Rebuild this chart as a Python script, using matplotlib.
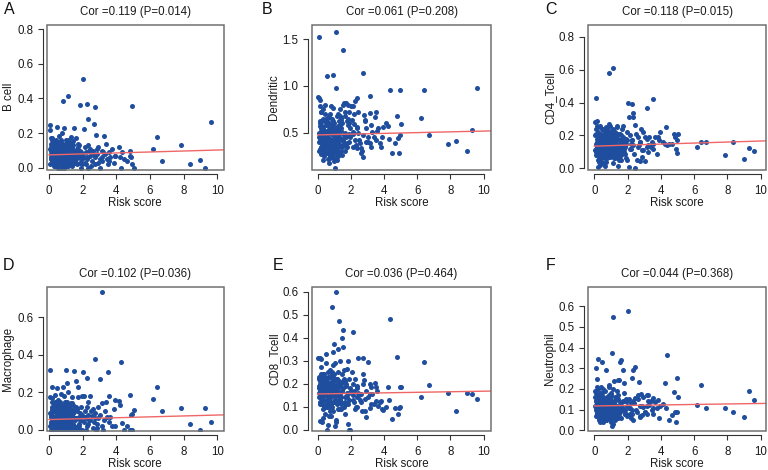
import matplotlib
matplotlib.use("Agg")
import matplotlib.pyplot as plt
from matplotlib.patches import Rectangle

plt.rcParams['font.family'] = ['Liberation Sans', 'DejaVu Sans']

# ---- data ----
panel_letters = ['A', 'B', 'C', 'D', 'E', 'F']
cell_types = ['B cell', 'Dendritic', 'CD4_Tcell', 'Macrophage', 'CD8_Tcell', 'Neutrophil']
cor_values = [0.119, 0.061, 0.118, 0.102, 0.036, 0.044]
p_values = [0.014, 0.208, 0.015, 0.036, 0.464, 0.368]
fit_intercept = [0.075, 0.475, 0.135, 0.054, 0.155, 0.118]
fit_slope = [0.0028, 0.0041, 0.0031, 0.0024, 0.0012, 0.0012]

risk_score = [
    0.05, 0.08, 0.10, 0.12, 0.15, 0.18, 0.20, 0.22, 0.25, 0.28,
    0.30, 0.32, 0.35, 0.38, 0.40, 0.42, 0.45, 0.48, 0.50, 0.52,
    0.55, 0.58, 0.60, 0.62, 0.65, 0.68, 0.70, 0.72, 0.75, 0.78,
    0.80, 0.82, 0.85, 0.88, 0.90, 0.92, 0.95, 0.98, 1.00, 1.02,
    1.05, 1.08, 1.10, 1.12, 1.15, 1.18, 1.20, 1.22, 1.25, 1.28,
    1.30, 1.35, 1.40, 1.45, 1.50, 1.55, 1.60, 1.65, 1.70, 1.75,
    1.80, 1.85, 1.90, 1.95, 0.06, 0.13, 0.17, 0.24, 0.33, 0.44,
    0.56, 0.63, 0.74, 0.86, 0.94, 1.04, 1.14, 1.24, 1.38, 1.48,
    0.09, 0.19, 0.27, 0.36, 0.47, 0.57, 0.67, 0.77, 0.87, 0.97,
    1.07, 1.17, 1.27, 1.33, 1.43, 1.53, 1.63, 1.73, 1.83, 1.98,
    0.11, 0.21, 0.31, 0.41, 0.51, 0.61, 0.71, 0.81, 0.91, 1.01,
    1.11, 1.21, 1.31, 1.41, 1.58, 0.14, 0.26, 0.39, 0.53, 0.66,
    0.79, 0.89, 0.99, 1.09, 1.19, 1.29, 0.16, 0.29, 0.43, 0.59,
    0.69, 0.83, 0.93, 1.03, 1.13, 1.23, 0.07, 0.34, 0.64, 0.84,
    1.06, 1.16, 1.36, 1.46, 1.68, 1.78, 1.88, 0.46, 0.73, 0.96,
    2.04, 2.10, 2.10, 2.14, 2.18, 2.20, 2.24, 2.24, 2.34, 2.34,
    2.34, 2.44, 2.44, 2.54, 2.60, 2.68, 2.74, 2.74, 2.80, 2.84,
    2.94, 2.94, 3.04, 3.14, 3.14, 3.14, 3.24, 3.30, 3.40, 3.44,
    3.50, 3.54, 3.64, 3.74, 3.84, 3.94, 4.14, 4.24, 4.30, 4.34,
    4.48, 4.64, 4.80, 4.84, 4.88, 4.94, 4.94, 5.04,
    6.20, 6.42, 6.70, 7.86, 8.36, 8.98, 9.27, 9.62,
    0.15, 0.23, 0.31, 0.37, 0.49, 0.54, 0.62, 0.68, 0.76, 0.81,
    0.88, 0.95, 1.02, 1.08, 1.15, 1.22, 1.26, 1.34, 1.42, 1.52,
    0.12, 0.20, 0.28, 0.40, 0.45, 0.58, 0.66, 0.72, 0.85, 0.92,
    1.00, 1.10, 1.18, 1.32, 1.44, 1.56, 1.66, 1.76, 1.86, 1.96,
    0.18, 0.35, 0.52, 0.70, 0.90, 1.12, 1.37, 1.62, 1.90, 2.15,
    2.28, 2.38, 2.50, 2.62, 2.72, 2.88, 3.02, 3.22, 3.55, 3.90,
]

b_cell = [
    0.248, 0.02, 0.17, 0.06, 0.11, 0.04, 0.175, 0.09, 0.13, 0.01,
    0.07, 0.15, 0.03, 0.10, 0.05, 0.12, 0.238, 0.08, 0.14, 0.02,
    0.06, 0.11, 0.185, 0.04, 0.09, 0.13, 0.0, 0.07, 0.20, 0.10,
    0.05, 0.12, 0.384, 0.08, 0.229, 0.03, 0.14, 0.06, 0.11, 0.16,
    0.09, 0.04, 0.413, 0.07, 0.13, 0.02, 0.10, 0.15, 0.06, 0.12,
    0.18, 0.05, 0.155, 0.09, 0.232, 0.03, 0.17, 0.11, 0.07, 0.14,
    0.06, 0.364, 0.0, 0.02, 0.219, 0.08, 0.12, 0.05, 0.11, 0.09,
    0.03, 0.15, 0.08, 0.10, 0.06, 0.13, 0.04, 0.09, 0.12, 0.07,
    0.10, 0.03, 0.14, 0.07, 0.12, 0.08, 0.05, 0.13, 0.02, 0.09,
    0.11, 0.06, 0.08, 0.14, 0.04, 0.10, 0.05, 0.12, 0.03, 0.08,
    0.05, 0.13, 0.09, 0.02, 0.11, 0.07, 0.15, 0.04, 0.10, 0.06,
    0.08, 0.12, 0.03, 0.10, 0.06, 0.14, 0.07, 0.16, 0.05, 0.12,
    0.09, 0.06, 0.13, 0.01, 0.11, 0.08, 0.04, 0.10, 0.07, 0.03,
    0.14, 0.10, 0.07, 0.12, 0.05, 0.09, 0.11, 0.06, 0.08, 0.13,
    0.04, 0.10, 0.12, 0.06, 0.09, 0.13, 0.05, 0.03, 0.16, 0.01,
    0.514, 0.223, 0.06, 0.12, 0.02, 0.09, 0.37, 0.05, 0.281, 0.13,
    0.0, 0.07, 0.11, 0.04, 0.10, 0.254, 0.351, 0.06, 0.19, 0.08,
    0.03, 0.12, 0.0, 0.06, 0.10, 0.04, 0.186, 0.08, 0.136, 0.05,
    0.02, 0.09, 0.06, 0.11, 0.03, 0.07, 0.12, 0.065, 0.0, 0.09,
    0.05, 0.04, 0.097, 0.07, 0.06, 0.355, 0.02, 0.0,
    0.107, 0.176, 0.041, 0.134, 0.025, 0.048, 0.0, 0.264,
    0.06, 0.11, 0.03, 0.13, 0.08, 0.00, 0.10, 0.05, 0.12, 0.02,
    0.09, 0.04, 0.07, 0.14, 0.01, 0.11, 0.06, 0.13, 0.03, 0.08,
    0.12, 0.07, 0.10, 0.02, 0.15, 0.05, 0.09, 0.12, 0.04, 0.10,
    0.02, 0.08, 0.11, 0.06, 0.13, 0.09, 0.02, 0.07, 0.10, 0.05,
    0.16, 0.01, 0.04, 0.02, 0.00, 0.16, 0.01, 0.03, 0.09, 0.03,
    0.06, 0.10, 0.01, 0.08, 0.02, 0.11, 0.05, 0.09, 0.04, 0.07,
]

dendritic = [
    0.88, 0.45, 0.87, 0.60, 0.85, 0.35, 0.52, 0.72, 0.40, 0.28,
    0.55, 0.33, 0.48, 0.62, 0.25, 0.42, 0.80, 0.30, 0.58, 0.37,
    1.10, 0.45, 0.22, 0.66, 0.38, 0.50, 0.27, 0.70, 0.43, 0.32,
    0.78, 0.24, 0.55, 0.40, 1.12, 0.33, 0.62, 0.20, 0.47, 0.36,
    0.12, 0.52, 0.98, 1.58, 0.30, 0.68, 0.42, 0.25, 0.57, 0.38,
    0.45, 0.75, 0.30, 0.60, 0.80, 1.38, 0.82, 0.50, 0.82, 0.35,
    0.65, 0.80, 0.40, 0.55, 0.30, 0.62, 0.42, 0.50, 0.75, 0.35,
    0.28, 0.52, 0.40, 0.65, 0.30, 0.44, 0.21, 0.70, 0.52, 0.26,
    0.40, 0.55, 0.32, 0.46, 0.70, 0.38, 0.60, 0.23, 0.48, 0.56,
    0.34, 0.47, 0.62, 0.28, 0.55, 0.42, 0.68, 0.45, 0.58, 0.78,
    0.50, 0.27, 0.65, 0.36, 0.44, 0.58, 0.33, 0.52, 0.29, 0.41,
    0.55, 0.36, 0.48, 0.66, 0.38, 0.78, 0.46, 0.28, 0.40, 0.54,
    0.36, 0.29, 0.60, 0.45, 0.32, 0.42, 0.57, 0.38, 0.49, 0.33,
    0.48, 0.42, 0.26, 0.35, 0.50, 0.29, 1.52, 0.44, 0.31, 0.37,
    0.22, 0.40, 0.58, 0.43, 0.36, 0.62, 0.48, 0.52, 0.34, 0.43,
    0.636, 0.786, 0.35, 0.511, 0.70, 0.593, 0.839, 0.421, 0.868, 0.564,
    0.332, 0.725, 0.493, 0.386, 0.286, 0.304, 1.136, 0.243, 0.689, 0.636,
    0.546, 0.404, 0.457, 0.896, 0.707, 0.386, 0.582, 0.511, 0.457, 0.671,
    0.725, 0.421, 0.546, 0.386, 0.35, 0.557, 0.60, 0.571, 0.429, 0.957,
    0.286, 0.386, 0.682, 0.439, 0.279, 0.957, 0.475, 0.589,
    0.654, 0.957, 0.475, 0.379, 0.407, 0.304, 0.529, 0.975,
    0.32, 0.45, 0.27, 0.52, 0.38, 0.61, 0.29, 0.43, 0.35, 0.58,
    0.24, 0.47, 0.31, 0.39, 0.53, 0.26, 0.44, 0.36, 0.63, 0.41,
    0.49, 0.34, 0.57, 0.30, 0.46, 0.37, 0.68, 0.25, 0.42, 0.51,
    0.33, 0.40, 0.28, 0.56, 0.35, 0.47, 0.72, 0.39, 0.60, 0.45,
    0.72, 0.21, 0.64, 0.18, 0.76, 0.23, 0.68, 0.30, 0.72, 0.48,
    0.37, 0.55, 0.42, 0.33, 0.47, 0.62, 0.40, 0.35, 0.52, 0.45,
]

cd4_tcell = [
    0.28, 0.15, 0.427, 0.08, 0.285, 0.12, 0.22, 0.05, 0.01, 0.18,
    0.10, 0.26, 0.14, 0.04, 0.20, 0.09, 0.16, 0.24, 0.07, 0.13,
    0.19, 0.11, 0.03, 0.21, 0.15, 0.08, 0.25, 0.12, 0.18, 0.06,
    0.14, 0.22, 0.10, 0.17, 0.58, 0.07, 0.26, 0.13, 0.20, 0.09,
    0.16, 0.11, 0.61, 0.24, 0.08, 0.19, 0.13, 0.22, 0.06, 0.15,
    0.10, 0.25, 0.016, 0.18, 0.12, 0.21, 0.08, 0.24, 0.14, 0.19,
    0.12, 0.16, 0.06, 0.22, 0.20, 0.10, 0.14, 0.25, 0.07, 0.17,
    0.12, 0.016, 0.20, 0.09, 0.15, 0.11, 0.23, 0.08, 0.17, 0.05,
    0.12, 0.18, 0.06, 0.21, 0.10, 0.14, 0.08, 0.23, 0.11, 0.16,
    0.09, 0.17, 0.12, 0.20, 0.07, 0.15, 0.11, 0.26, 0.13, 0.05,
    0.21, 0.09, 0.17, 0.13, 0.03, 0.19, 0.11, 0.15, 0.08, 0.22,
    0.14, 0.10, 0.18, 0.07, 0.20, 0.16, 0.04, 0.12, 0.24, 0.10,
    0.18, 0.13, 0.09, 0.15, 0.11, 0.21, 0.13, 0.19, 0.10, 0.17,
    0.13, 0.16, 0.12, 0.18, 0.14, 0.09, 0.11, 0.15, 0.06, 0.12,
    0.14, 0.20, 0.09, 0.13, 0.17, 0.10, 0.15, 0.11, 0.07, 0.19,
    0.395, 0.314, 0.01, 0.20, 0.15, 0.12, 0.39, 0.17, 0.334, 0.314,
    0.14, 0.263, 0.0, 0.05, 0.19, 0.14, 0.045, 0.16, 0.237, 0.07,
    0.111, 0.22, 0.045, 0.368, 0.13, 0.18, 0.10, 0.19, 0.13, 0.16,
    0.419, 0.15, 0.19, 0.087, 0.19, 0.22, 0.16, 0.15, 0.253, 0.14,
    0.15, 0.15, 0.21, 0.19, 0.12, 0.095, 0.17, 0.21,
    0.132, 0.162, 0.162, 0.081, 0.162, 0.055, 0.126, 0.107,
    0.09, 0.17, 0.12, 0.21, 0.06, 0.14, 0.19, 0.10, 0.16, 0.23,
    0.08, 0.13, 0.18, 0.11, 0.15, 0.20, 0.07, 0.14, 0.12, 0.17,
    0.24, 0.10, 0.15, 0.19, 0.09, 0.13, 0.22, 0.11, 0.16, 0.08,
    0.14, 0.18, 0.06, 0.12, 0.21, 0.10, 0.15, 0.13, 0.09, 0.17,
    0.26, 0.02, 0.23, 0.04, 0.27, 0.03, 0.26, 0.05, 0.18, 0.12,
    0.17, 0.09, 0.21, 0.13, 0.16, 0.11, 0.19, 0.14, 0.12, 0.17,
]

macrophage = [
    0.319, 0.02, 0.08, 0.0, 0.05, 0.12, 0.226, 0.03, 0.10, 0.0,
    0.06, 0.14, 0.01, 0.186, 0.09, 0.04, 0.11, 0.0, 0.22, 0.07,
    0.03, 0.13, 0.0, 0.08, 0.05, 0.15, 0.02, 0.10, 0.06, 0.0,
    0.09, 0.04, 0.226, 0.0, 0.12, 0.07, 0.02, 0.14, 0.318, 0.05,
    0.247, 0.0, 0.10, 0.03, 0.20, 0.06, 0.13, 0.0, 0.08, 0.04,
    0.11, 0.172, 0.02, 0.09, 0.315, 0.05, 0.262, 0.0, 0.226, 0.172,
    0.07, 0.0, 0.12, 0.181, 0.176, 0.04, 0.10, 0.0, 0.13, 0.06,
    0.09, 0.0, 0.11, 0.03, 0.07, 0.15, 0.0, 0.05, 0.10, 0.02,
    0.03, 0.11, 0.06, 0.0, 0.14, 0.04, 0.09, 0.01, 0.12, 0.07,
    0.05, 0.12, 0.0, 0.08, 0.03, 0.11, 0.06, 0.02, 0.09, 0.0,
    0.07, 0.0, 0.10, 0.05, 0.13, 0.01, 0.08, 0.04, 0.0, 0.11,
    0.02, 0.07, 0.14, 0.0, 0.06, 0.09, 0.03, 0.12, 0.0, 0.05,
    0.13, 0.02, 0.06, 0.09, 0.0, 0.04, 0.15, 0.07, 0.02, 0.10,
    0.04, 0.08, 0.01, 0.11, 0.05, 0.0, 0.09, 0.03, 0.12, 0.06,
    0.08, 0.03, 0.0, 0.06, 0.10, 0.02, 0.05, 0.13, 0.0, 0.15,
    0.306, 0.18, 0.04, 0.10, 0.06, 0.0, 0.278, 0.12, 0.08, 0.03,
    0.15, 0.181, 0.05, 0.073, 0.11, 0.04, 0.378, 0.09, 0.0, 0.01,
    0.06, 0.12, 0.271, 0.733, 0.14, 0.02, 0.05, 0.10, 0.145, 0.065,
    0.306, 0.177, 0.065, 0.02, 0.11, 0.158, 0.154, 0.13, 0.36, 0.036,
    0.0, 0.018, 0.185, 0.0, 0.079, 0.082, 0.0, 0.104,
    0.161, 0.228, 0.099, 0.116, 0.032, 0.0, 0.115, 0.043,
    0.04, 0.10, 0.01, 0.07, 0.13, 0.02, 0.09, 0.05, 0.11, 0.00,
    0.08, 0.03, 0.12, 0.06, 0.00, 0.10, 0.04, 0.08, 0.13, 0.01,
    0.09, 0.05, 0.14, 0.02, 0.07, 0.11, 0.00, 0.06, 0.10, 0.03,
    0.12, 0.04, 0.08, 0.01, 0.09, 0.06, 0.11, 0.03, 0.05, 0.08,
    0.17, 0.15, 0.16, 0.19, 0.18, 0.00, 0.14, 0.12, 0.00, 0.07,
    0.02, 0.05, 0.10, 0.01, 0.06, 0.03, 0.08, 0.00, 0.04, 0.02,
]

cd8_tcell = [
    0.311, 0.18, 0.22, 0.311, 0.038, 0.15, 0.305, 0.12, 0.031, 0.20,
    0.16, 0.24, 0.09, 0.19, 0.13, 0.22, 0.07, 0.17, 0.33, 0.11,
    0.21, 0.0, 0.14, 0.25, 0.02, 0.18, 0.10, 0.23, 0.15, 0.06,
    0.19, 0.12, 0.24, 0.534, 0.08, 0.337, 0.17, 0.21, 0.374, 0.13,
    0.29, 0.16, 0.60, 0.031, 0.22, 0.11, 0.35, 0.18, 0.25, 0.09,
    0.47, 0.14, 0.20, 0.40, 0.36, 0.435, 0.26, 0.12, 0.19, 0.264,
    0.023, 0.30, 0.0, 0.0, 0.14, 0.21, 0.12, 0.17, 0.23, 0.15,
    0.13, 0.19, 0.26, 0.10, 0.22, 0.016, 0.15, 0.20, 0.11, 0.24,
    0.16, 0.21, 0.13, 0.23, 0.10, 0.18, 0.14, 0.08, 0.20, 0.15,
    0.19, 0.12, 0.21, 0.16, 0.09, 0.18, 0.14, 0.20, 0.11, 0.17,
    0.19, 0.14, 0.22, 0.10, 0.17, 0.12, 0.20, 0.15, 0.23, 0.18,
    0.13, 0.16, 0.19, 0.14, 0.22, 0.11, 0.17, 0.24, 0.15, 0.13,
    0.16, 0.19, 0.12, 0.18, 0.15, 0.13, 0.20, 0.16, 0.21, 0.18,
    0.20, 0.14, 0.17, 0.12, 0.19, 0.16, 0.23, 0.18, 0.13, 0.21,
    0.15, 0.20, 0.13, 0.17, 0.11, 0.14, 0.22, 0.16, 0.19, 0.24,
    0.25, 0.423, 0.20, 0.15, 0.12, 0.17, 0.089, 0.22, 0.14, 0.10,
    0.19, 0.311, 0.16, 0.13, 0.155, 0.082, 0.311, 0.242, 0.216, 0.133,
    0.055, 0.17, 0.293, 0.199, 0.155, 0.095, 0.184, 0.155, 0.11, 0.201,
    0.126, 0.184, 0.104, 0.118, 0.126, 0.085, 0.099, 0.184, 0.13, 0.479,
    0.045, 0.092, 0.315, 0.067, 0.092, 0.10, 0.184, 0.184,
    0.142, 0.296, 0.196, 0.161, 0.083, 0.158, 0.155, 0.134,
    0.17, 0.12, 0.21, 0.15, 0.19, 0.10, 0.23, 0.14, 0.18, 0.11,
    0.20, 0.16, 0.13, 0.22, 0.17, 0.09, 0.19, 0.15, 0.12, 0.21,
    0.14, 0.24, 0.11, 0.18, 0.16, 0.20, 0.13, 0.17, 0.25, 0.15,
    0.12, 0.19, 0.22, 0.14, 0.17, 0.10, 0.21, 0.16, 0.13, 0.18,
    0.27, 0.05, 0.29, 0.06, 0.28, 0.04, 0.30, 0.07, 0.16, 0.13,
    0.10, 0.18, 0.15, 0.12, 0.20, 0.08, 0.14, 0.11, 0.17, 0.09,
]

neutrophil = [
    0.19, 0.10, 0.302, 0.07, 0.247, 0.13, 0.20, 0.09, 0.345, 0.05,
    0.12, 0.17, 0.06, 0.14, 0.21, 0.08, 0.33, 0.11, 0.16, 0.04,
    0.10, 0.15, 0.07, 0.12, 0.19, 0.09, 0.294, 0.05, 0.14, 0.11,
    0.08, 0.16, 0.12, 0.06, 0.21, 0.10, 0.14, 0.04, 0.18, 0.09,
    0.376, 0.019, 0.548, 0.13, 0.07, 0.24, 0.11, 0.16, 0.05, 0.12,
    0.09, 0.15, 0.241, 0.06, 0.245, 0.33, 0.339, 0.11, 0.14, 0.29,
    0.228, 0.10, 0.15, 0.07, 0.12, 0.18, 0.08, 0.13, 0.10, 0.16,
    0.05, 0.12, 0.09, 0.17, 0.11, 0.07, 0.20, 0.10, 0.15, 0.08,
    0.14, 0.08, 0.11, 0.18, 0.06, 0.13, 0.10, 0.16, 0.08, 0.12,
    0.10, 0.14, 0.06, 0.12, 0.17, 0.09, 0.13, 0.11, 0.08, 0.14,
    0.11, 0.15, 0.09, 0.12, 0.07, 0.14, 0.10, 0.13, 0.16, 0.06,
    0.12, 0.08, 0.15, 0.11, 0.10, 0.16, 0.12, 0.07, 0.13, 0.09,
    0.11, 0.14, 0.10, 0.08, 0.13, 0.12, 0.09, 0.15, 0.11, 0.14,
    0.07, 0.12, 0.15, 0.10, 0.12, 0.09, 0.16, 0.11, 0.13, 0.10,
    0.13, 0.09, 0.12, 0.14, 0.10, 0.18, 0.08, 0.12, 0.15, 0.05,
    0.575, 0.153, 0.11, 0.08, 0.13, 0.06, 0.255, 0.10, 0.291, 0.14,
    0.05, 0.306, 0.156, 0.09, 0.169, 0.235, 0.066, 0.12, 0.176, 0.074,
    0.113, 0.16, 0.09, 0.169, 0.12, 0.08, 0.173, 0.121, 0.14, 0.10,
    0.077, 0.156, 0.137, 0.11, 0.145, 0.12, 0.129, 0.227, 0.106, 0.365,
    0.05, 0.074, 0.184, 0.09, 0.039, 0.252, 0.09, 0.161,
    0.124, 0.219, 0.110, 0.106, 0.090, 0.063, 0.189, 0.145,
    0.11, 0.07, 0.14, 0.09, 0.16, 0.12, 0.06, 0.13, 0.10, 0.15,
    0.08, 0.12, 0.17, 0.10, 0.13, 0.07, 0.11, 0.15, 0.09, 0.12,
    0.14, 0.10, 0.06, 0.13, 0.18, 0.11, 0.08, 0.14, 0.12, 0.16,
    0.09, 0.13, 0.11, 0.07, 0.15, 0.12, 0.10, 0.14, 0.08, 0.12,
    0.21, 0.04, 0.20, 0.05, 0.22, 0.03, 0.19, 0.06, 0.14, 0.11,
    0.08, 0.13, 0.10, 0.15, 0.07, 0.12, 0.09, 0.14, 0.11, 0.06,
]

panel_values = [b_cell, dendritic, cd4_tcell, macrophage, cd8_tcell, neutrophil]
y_ticks = [
    [0.0, 0.2, 0.4, 0.6, 0.8],
    [0.5, 1.0, 1.5],
    [0.0, 0.2, 0.4, 0.6, 0.8],
    [0.0, 0.2, 0.4, 0.6],
    [0.0, 0.1, 0.2, 0.3, 0.4, 0.5, 0.6],
    [0.0, 0.1, 0.2, 0.3, 0.4, 0.5, 0.6],
]
x_ticks = [0, 2, 4, 6, 8, 10]

# ---- layout (pixels of the 768x470 canvas) ----
W, H = 768, 470
col_left = [46.5, 312, 588]
col_width = [177, 179, 178]
col_xlim = [(-0.15, 10.37), (-0.34, 10.44), (-0.38, 10.32)]
row_top = [24.5, 286.5]
row_bottom = [170, 431]
panel_ylim = [(-0.012, 0.826), (0.10, 1.655), (-0.01, 0.874),
              (-0.007, 0.763), (-0.006, 0.622), (-0.003, 0.695)]
letter_pos = [(9, 9), (267, 9), (551, 10), (9, 265), (278, 265), (551, 266)]

point_color = '#1f4e9e'
line_color = '#f06666'

fig = plt.figure(figsize=(W / 100, H / 100), dpi=100)

for i, (letter, name) in enumerate(zip(panel_letters, cell_types)):
    row, col = divmod(i, 3)
    left = col_left[col]
    width = col_width[col]
    top = row_top[row]
    bottom = row_bottom[row]
    ax = fig.add_axes([left / W, 1 - bottom / H, width / W, (bottom - top) / H])

    vals = panel_values[i]
    ax.scatter(risk_score, vals, s=13, color=point_color, linewidths=0, zorder=2)

    xlo, xhi = col_xlim[col]
    xs = [0, xhi]
    ax.plot(xs, [fit_intercept[i] + fit_slope[i] * x for x in xs],
            color=line_color, lw=1.0, zorder=3)

    ax.set_xlim(xlo, xhi)
    ax.set_ylim(*panel_ylim[i])
    ax.set_xticks(x_ticks)
    ax.set_xticklabels([str(t) for t in x_ticks])
    yt = y_ticks[i]
    ax.set_yticks(yt)
    ax.set_yticklabels([f"{t:.1f}" for t in yt])

    for side in ('top', 'right'):
        ax.spines[side].set_visible(False)
    ax.spines['left'].set_position(('outward', 2.8))
    ax.spines['bottom'].set_position(('outward', 2.8))
    ax.spines['left'].set_bounds(yt[0], yt[-1])
    ax.spines['bottom'].set_bounds(x_ticks[0], x_ticks[-1])
    for side in ('left', 'bottom'):
        ax.spines[side].set_color('#333333')
        ax.spines[side].set_linewidth(0.8)
    ax.add_patch(Rectangle((0, 0), 1, 1, transform=ax.transAxes, fill=False,
                           edgecolor='#707070', lw=1.1, clip_on=False, zorder=5))

    ax.tick_params(axis='both', direction='out', length=3.6, width=0.8,
                   color='#333333', labelsize=8.3, labelcolor='#1a1a1a')
    ax.tick_params(axis='x', pad=4.3)
    ax.tick_params(axis='y', pad=3.2)

    ax.set_title(f"Cor ={cor_values[i]:.3f} (P={p_values[i]:.3f})",
                 fontsize=8.3, color='#1a1a1a', pad=7)
    ax.set_xlabel('Risk score', fontsize=8.3, color='#1a1a1a')
    ax.xaxis.set_label_coords(0.5, -27 / (bottom - top))
    ax.xaxis.label.set_va('top')
    ax.set_ylabel(name, fontsize=8.3, color='#1a1a1a')
    ax.yaxis.set_label_coords(-32 / width, 0.5)

    lx, ly = letter_pos[i]
    fig.text(lx / W, 1 - ly / H, letter, fontsize=11.5, ha='center', va='center',
             color='#111111')

fig.savefig('out.png', dpi=100)
